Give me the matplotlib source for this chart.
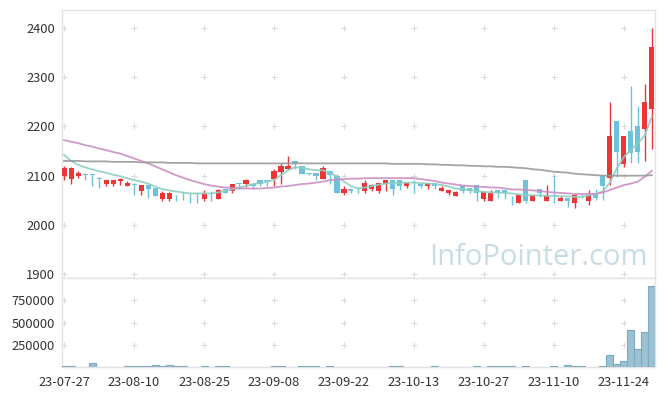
import matplotlib
matplotlib.use("Agg")
import matplotlib.pyplot as plt
import numpy as np

plt.rcParams['font.family'] = ['Noto Sans CJK KR', 'DejaVu Sans']

# daily candles (open, high, low, close)
opens = [2100, 2094, 2100, 2103, 2103, 2095, 2083, 2083, 2090, 2080,
         2082, 2069, 2082, 2076, 2053, 2053, 2061, 2063, 2065, 2064,
         2053, 2064, 2053, 2074, 2069, 2084, 2084, 2084, 2091, 2091,
         2094, 2107, 2114, 2130, 2120, 2105, 2105, 2094, 2109, 2100,
         2064, 2074, 2071, 2069, 2074, 2069, 2084, 2091, 2091, 2080,
         2086, 2084, 2080, 2086, 2069, 2064, 2059, 2081, 2076, 2081,
         2053, 2049, 2071, 2071, 2059, 2044, 2091, 2049, 2074, 2049,
         2051, 2049, 2055, 2044, 2063, 2049, 2061, 2101, 2095, 2211,
         2124, 2191, 2201, 2194, 2235]
highs = [2120, 2117, 2109, 2105, 2104, 2098, 2092, 2092, 2095, 2089,
         2085, 2082, 2082, 2076, 2069, 2067, 2061, 2066, 2065, 2064,
         2070, 2069, 2072, 2074, 2084, 2086, 2094, 2084, 2091, 2091,
         2113, 2125, 2140, 2130, 2120, 2105, 2105, 2120, 2109, 2103,
         2079, 2074, 2078, 2091, 2084, 2086, 2091, 2091, 2091, 2086,
         2091, 2084, 2086, 2086, 2079, 2071, 2068, 2081, 2076, 2081,
         2069, 2071, 2071, 2071, 2059, 2061, 2091, 2061, 2074, 2081,
         2101, 2059, 2055, 2061, 2063, 2070, 2074, 2101, 2250, 2211,
         2180, 2281, 2241, 2285, 2399]
lows = [2091, 2084, 2095, 2092, 2080, 2075, 2080, 2080, 2081, 2080,
        2060, 2061, 2054, 2059, 2049, 2049, 2049, 2051, 2044, 2044,
        2049, 2049, 2053, 2064, 2064, 2074, 2077, 2074, 2080, 2080,
        2080, 2084, 2114, 2114, 2104, 2101, 2091, 2094, 2084, 2064,
        2060, 2064, 2064, 2064, 2069, 2064, 2069, 2060, 2070, 2076,
        2064, 2076, 2074, 2074, 2069, 2060, 2059, 2064, 2064, 2049,
        2049, 2049, 2054, 2053, 2040, 2044, 2044, 2049, 2057, 2049,
        2044, 2049, 2036, 2034, 2054, 2040, 2051, 2051, 2081, 2098,
        2118, 2125, 2125, 2130, 2155]
closes = [2115, 2115, 2106, 2102, 2102, 2094, 2091, 2091, 2094, 2086,
          2081, 2081, 2073, 2059, 2065, 2065, 2060, 2062, 2064, 2063,
          2065, 2063, 2071, 2064, 2084, 2083, 2091, 2080, 2084, 2090,
          2109, 2120, 2120, 2124, 2104, 2104, 2100, 2116, 2101, 2064,
          2074, 2069, 2070, 2086, 2081, 2086, 2091, 2074, 2080, 2086,
          2085, 2080, 2086, 2080, 2076, 2071, 2066, 2069, 2069, 2064,
          2066, 2064, 2064, 2064, 2058, 2061, 2049, 2061, 2064, 2061,
          2050, 2055, 2049, 2061, 2062, 2061, 2054, 2080, 2180, 2149,
          2180, 2145, 2149, 2250, 2360]

# moving averages as drawn (5, 20, 60 days)
ma5 = [2142, 2130, 2122, 2117, 2113, 2109, 2106, 2102, 2099, 2095,
       2091, 2088, 2084, 2078, 2073, 2070, 2068, 2066, 2064, 2064,
       2064, 2064, 2066, 2069, 2072, 2076, 2079, 2083, 2085, 2088,
       2091, 2101, 2111, 2117, 2116, 2113, 2111, 2111, 2106, 2098,
       2088, 2079, 2074, 2076, 2079, 2082, 2084, 2085, 2086, 2086,
       2086, 2085, 2084, 2083, 2081, 2078, 2074, 2072, 2071, 2069,
       2067, 2066, 2066, 2065, 2064, 2062, 2061, 2060, 2060, 2059,
       2059, 2058, 2058, 2057, 2057, 2060, 2063, 2068, 2086, 2115,
       2138, 2152, 2166, 2182, 2220]
ma20 = [2172, 2169, 2166, 2162, 2159, 2155, 2152, 2148, 2145, 2140,
        2135, 2130, 2125, 2119, 2113, 2107, 2101, 2096, 2091, 2087,
        2083, 2080, 2078, 2076, 2075, 2074, 2074, 2074, 2074, 2075,
        2076, 2078, 2079, 2081, 2083, 2084, 2086, 2088, 2091, 2092,
        2093, 2094, 2094, 2095, 2095, 2095, 2095, 2095, 2095, 2095,
        2095, 2093, 2091, 2089, 2086, 2084, 2082, 2080, 2079, 2078,
        2077, 2076, 2076, 2074, 2072, 2072, 2071, 2070, 2069, 2067,
        2066, 2065, 2064, 2063, 2063, 2063, 2063, 2066, 2071, 2076,
        2081, 2084, 2088, 2098, 2110]
ma60 = [2130, 2130, 2130, 2129, 2129, 2129, 2129, 2128, 2128, 2128,
        2128, 2127, 2127, 2127, 2127, 2126, 2126, 2126, 2126, 2125,
        2125, 2125, 2125, 2125, 2125, 2125, 2125, 2125, 2125, 2125,
        2125, 2125, 2125, 2125, 2125, 2125, 2125, 2125, 2125, 2125,
        2125, 2125, 2125, 2125, 2125, 2125, 2125, 2124, 2124, 2124,
        2124, 2124, 2123, 2123, 2122, 2122, 2121, 2121, 2120, 2120,
        2119, 2119, 2118, 2118, 2117, 2116, 2115, 2113, 2112, 2110,
        2108, 2107, 2106, 2104, 2103, 2102, 2101, 2100, 2100, 2100,
        2100, 2100, 2100, 2100, 2101]

volumes = [22000, 16000, 0, 0, 45000, 0, 0, 0, 0, 16000,
           16000, 16000, 16000, 33000, 16000, 24000, 16000, 16000, 0, 0,
           16000, 0, 16000, 16000, 0, 0, 0, 0, 0, 0,
           16000, 16000, 0, 0, 22000, 16000, 22000, 0, 16000, 0,
           0, 0, 0, 0, 0, 0, 0, 16000, 16000, 0,
           0, 0, 0, 16000, 0, 0, 0, 0, 0, 16000,
           0, 16000, 22000, 16000, 16000, 0, 16000, 0, 0, 0,
           20000, 0, 30000, 16000, 16000, 0, 0, 16000, 134000, 41000,
           67000, 424000, 212000, 402000, 908000]

tick_pos = [0, 10, 20, 30, 40, 50, 60, 70, 80]
tick_labels = ["23-07-27", "23-08-10", "23-08-25", "23-09-08", "23-09-22",
               "23-10-13", "23-10-27", "23-11-10", "23-11-24"]
price_ticks = [1900, 2000, 2100, 2200, 2300, 2400]
vol_ticks = [250000, 500000, 750000]

RED = '#ec3537'
BLUE = '#6cc2da'
SPINE = '#e3e3e3'
TXT = '#333333'

fig = plt.figure(figsize=(6.65, 3.96), dpi=100)
ax = fig.add_axes([0.0932, 0.298, 0.8918, 0.6767])
axv = fig.add_axes([0.0932, 0.072, 0.8918, 0.226], sharex=ax)

x = np.arange(len(opens))
o = np.array(opens); c = np.array(closes)
h = np.array(highs); l = np.array(lows)
colors = [RED if cc > oo else BLUE for oo, cc in zip(o, c)]

ax.vlines(x, l, h, colors=colors, linewidth=1.0, zorder=3)
body = np.maximum(np.abs(c - o), 1.6)
ax.bar(x, body, bottom=np.minimum(o, c), width=0.72, color=colors,
       linewidth=0, zorder=4)

ax.plot(x, ma5, color='#8ccfc2', lw=1.3, alpha=0.9, zorder=5)
ax.plot(x, ma20, color='#cc8ec4', lw=1.3, alpha=0.9, zorder=5)
ax.plot(x, ma60, color='#9a9a9a', lw=1.3, alpha=0.9, zorder=5)

axv.bar(x, volumes, width=1.0, color='#9bc1d3', edgecolor='#7ea9bf',
        linewidth=0.8, zorder=3)

ax.set_xlim(-0.3, 84.45)
ax.set_ylim(1892.5, 2436)
axv.set_ylim(0, 1000000)

ax.set_yticks(price_ticks)
ax.set_yticklabels([str(t) for t in price_ticks])
axv.set_yticks(vol_ticks)
axv.set_yticklabels([str(t) for t in vol_ticks])
axv.set_xticks(tick_pos)
axv.set_xticklabels(tick_labels)
plt.setp(ax.get_xticklabels(), visible=False)

for a in (ax, axv):
    a.tick_params(length=0, labelsize=9.3, colors=TXT, pad=5)
    for s in a.spines.values():
        s.set_color(SPINE)
        s.set_linewidth(1.0)
    # little "+" marks at grid crossings
    gx, gy = np.meshgrid(tick_pos, a.get_yticks())
    a.plot(gx.ravel(), gy.ravel(), '+', color='#dcdcdc', ms=5, mew=0.8,
           zorder=1, clip_on=False)
axv.tick_params(axis='x', pad=6)

fig.text(0.974, 0.33, "InfoPointer.com", ha='right', va='baseline',
         fontsize=21, color='#c9dce6', family=['Open Sans', 'DejaVu Sans'],
         zorder=0)

fig.savefig("out.png", dpi=100)
